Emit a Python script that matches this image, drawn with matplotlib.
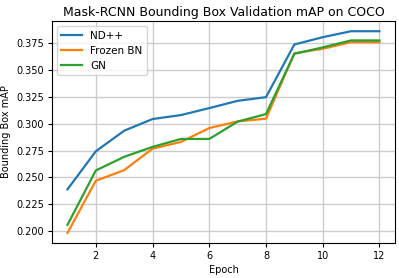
import matplotlib
matplotlib.use("Agg")
import matplotlib.pyplot as plt

epochs = [1, 2, 3, 4, 5, 6, 7, 8, 9, 10, 11, 12]
nd_pp = [0.2387, 0.2743, 0.2935, 0.3044, 0.3081, 0.3146, 0.3214, 0.3248, 0.3740, 0.3808, 0.3864, 0.3864]
frozen_bn = [0.1981, 0.2468, 0.2567, 0.2768, 0.2830, 0.2960, 0.3022, 0.3047, 0.3658, 0.3700, 0.3762, 0.3762]
gn = [0.2056, 0.2564, 0.2691, 0.2784, 0.2858, 0.2858, 0.3020, 0.3090, 0.3653, 0.3713, 0.3778, 0.3778]
series_labels = ["ND++", "Frozen BN", "GN"]
xticks = [2, 4, 6, 8, 10, 12]
yticks = [0.200, 0.225, 0.250, 0.275, 0.300, 0.325, 0.350, 0.375]

fig = plt.figure(figsize=(3.99, 2.78), dpi=100)
ax = fig.add_axes([0.130, 0.126, 0.860, 0.798])
colors = ["#1f77b4", "#ff7f0e", "#2ca02c"]
for vals, lab, c in zip([nd_pp, frozen_bn, gn], series_labels, colors):
    ax.plot(epochs, vals, color=c, linewidth=1.6, label=lab)
ax.set_xticks(xticks)
ax.set_yticks(yticks)
ax.set_yticklabels([f"{v:.3f}" for v in yticks])
ax.tick_params(labelsize=7, length=3, pad=2.5)
ax.grid(True, color="#cccccc", linewidth=1.0)
ax.set_axisbelow(True)
ax.set_xlabel("Epoch", fontsize=7, labelpad=3)
ax.set_ylabel("Bounding Box mAP", fontsize=7, labelpad=4)
ax.set_title("Mask-RCNN Bounding Box Validation mAP on COCO", fontsize=9, pad=4)
ax.legend(loc="upper left", fontsize=7.5, handlelength=2.0)
fig.savefig("out.png", dpi=100)
